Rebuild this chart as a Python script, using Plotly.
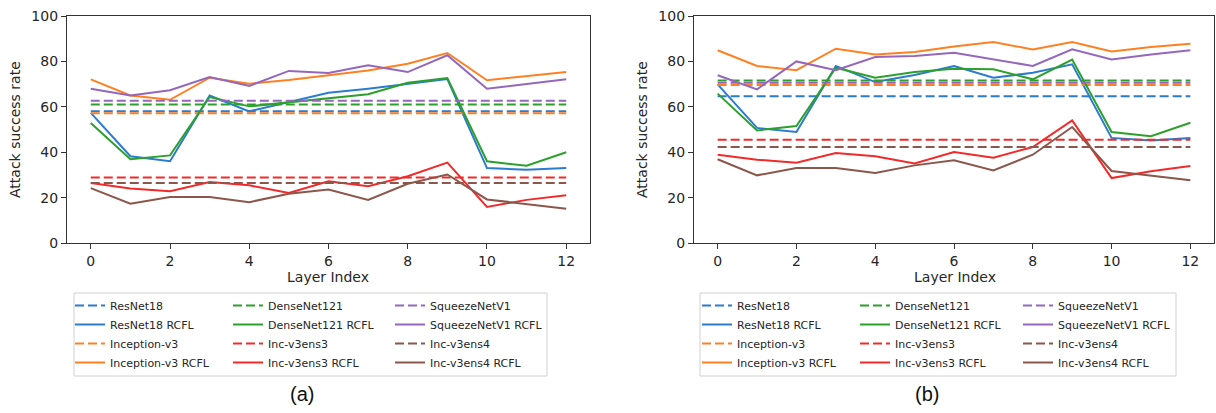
import plotly.graph_objects as go

layers = list(range(13))

# Panel (a): baselines (dashed) and RCFL curves (solid)
a_base = {
    "ResNet18": 58.0, "DenseNet121": 61.0, "SqueezeNetV1": 62.7,
    "Inception-v3": 57.2, "Inc-v3ens3": 28.8, "Inc-v3ens4": 26.4,
}
a_resnet18 = [57.3, 38.2, 36.0, 65.0, 58.0, 62.0, 66.2, 68.0, 70.2, 72.2, 33.0, 32.3, 33.0]
a_densenet121 = [52.9, 36.9, 38.6, 64.3, 60.2, 62.0, 64.0, 65.5, 70.6, 72.7, 36.0, 34.0, 40.0]
a_squeezenet = [68.0, 65.0, 67.3, 73.1, 69.2, 75.8, 74.9, 78.3, 75.3, 82.7, 68.0, 70.0, 72.1]
a_inception = [72.1, 65.0, 63.1, 72.8, 70.2, 71.8, 73.9, 76.0, 79.0, 83.7, 71.7, 73.4, 75.3]
a_ens3 = [26.4, 24.0, 22.8, 26.9, 25.4, 22.0, 27.2, 25.0, 29.4, 35.4, 15.9, 19.0, 21.0]
a_ens4 = [24.2, 17.3, 20.3, 20.3, 18.0, 21.7, 23.6, 19.0, 26.1, 30.2, 19.2, 17.3, 15.1]

# Panel (b)
b_base = {
    "ResNet18": 64.6, "DenseNet121": 71.6, "SqueezeNetV1": 70.6,
    "Inception-v3": 69.6, "Inc-v3ens3": 45.5, "Inc-v3ens4": 42.3,
}
b_resnet18 = [69.9, 50.7, 48.9, 78.0, 70.9, 74.0, 78.0, 72.8, 75.0, 78.7, 46.3, 45.2, 46.3]
b_densenet121 = [65.8, 49.6, 51.5, 77.2, 72.8, 75.3, 76.8, 76.5, 72.1, 80.8, 48.9, 47.0, 53.0]
b_squeezenet = [73.9, 67.7, 80.0, 76.1, 81.9, 82.4, 83.8, 80.8, 78.0, 85.3, 80.8, 83.0, 84.9]
b_inception = [84.9, 78.0, 76.1, 85.6, 83.0, 84.1, 86.6, 88.5, 85.3, 88.5, 84.4, 86.3, 87.8]
b_ens3 = [38.9, 36.7, 35.4, 39.6, 38.2, 35.0, 40.1, 37.6, 42.3, 54.0, 28.6, 31.6, 33.9]
b_ens4 = [36.9, 29.8, 33.0, 33.0, 30.8, 34.2, 36.4, 32.0, 38.9, 51.1, 31.7, 29.8, 27.6]

models = ["ResNet18", "DenseNet121", "SqueezeNetV1", "Inception-v3", "Inc-v3ens3", "Inc-v3ens4"]
colors = {
    "ResNet18": "#2b7bd0", "DenseNet121": "#2ca02c", "SqueezeNetV1": "#9467bd",
    "Inception-v3": "#ff8022", "Inc-v3ens3": "#f22a2a", "Inc-v3ens4": "#8c564b",
}
# legend columns (matplotlib ncol=3, column-major fill)
columns = [["ResNet18", "Inception-v3"], ["DenseNet121", "Inc-v3ens3"], ["SqueezeNetV1", "Inc-v3ens4"]]

W, H = 1216, 413
FONT = "DejaVu Sans"
TXT = "#262626"


def px_x(x):
    return x / W


def px_y(y):
    return 1 - y / H


fig = go.Figure()

panels = [
    ("x", "y", ["legend", "legend2", "legend3"], a_base,
     [a_resnet18, a_densenet121, a_squeezenet, a_inception, a_ens3, a_ens4]),
    ("x2", "y2", ["legend4", "legend5", "legend6"], b_base,
     [b_resnet18, b_densenet121, b_squeezenet, b_inception, b_ens3, b_ens4]),
]

for xa, ya, legs, base, curves in panels:
    curve_map = dict(zip(models, curves))
    for leg, col in zip(legs, columns):
        rank = 1
        for m in col:
            fig.add_trace(go.Scatter(
                x=layers, y=[base[m]] * len(layers), mode="lines",
                name=m, xaxis=xa, yaxis=ya, legend=leg, legendrank=rank,
                line=dict(color=colors[m], width=2, dash="9px,4px"),
            ))
            rank += 1
            fig.add_trace(go.Scatter(
                x=layers, y=curve_map[m], mode="lines",
                name=m + " RCFL", xaxis=xa, yaxis=ya, legend=leg, legendrank=rank,
                line=dict(color=colors[m], width=2),
            ))
            rank += 1

axis_common = dict(
    showgrid=False, zeroline=False, showline=True, mirror=True, automargin=False,
    linecolor="#333333", linewidth=1.3, ticks="outside", ticklen=5,
    tickcolor="#333333", tickwidth=1.2,
    tickfont=dict(family=FONT, size=14, color=TXT),
)
xaxis_common = dict(axis_common, range=[-0.6, 12.6], tickvals=[0, 2, 4, 6, 8, 10, 12])
yaxis_common = dict(axis_common, range=[0, 100], tickvals=[0, 20, 40, 60, 80, 100])

legend_common = dict(
    orientation="v", xanchor="left", yanchor="top",
    bgcolor="rgba(0,0,0,0)", borderwidth=0,
    font=dict(family=FONT, size=11, color=TXT),
    itemwidth=30, tracegroupgap=0, traceorder="normal",
)
legend_top = 291
legend_xs = {"legend": 70, "legend2": 228, "legend3": 390,
             "legend4": 697, "legend5": 855, "legend6": 1018}
legends = {k: dict(legend_common, x=px_x(v), y=px_y(legend_top)) for k, v in legend_xs.items()}

title_font = dict(family=FONT, size=14, color=TXT)
annotations = [
    dict(text="Attack success rate", x=px_x(15), y=px_y(130), textangle=-90, font=title_font),
    dict(text="Attack success rate", x=px_x(642), y=px_y(130), textangle=-90, font=title_font),
    dict(text="Layer Index", x=px_x(328), y=px_y(277), font=title_font),
    dict(text="Layer Index", x=px_x(955), y=px_y(277), font=title_font),
    dict(text="(a)", x=px_x(302), y=px_y(394),
         font=dict(family="Liberation Sans", size=20, color="#111111")),
    dict(text="(b)", x=px_x(927), y=px_y(394),
         font=dict(family="Liberation Sans", size=20, color="#111111")),
]
for a in annotations:
    a.update(xref="paper", yref="paper", showarrow=False, xanchor="center", yanchor="middle")

shapes = [
    dict(type="rect", xref="paper", yref="paper",
         x0=px_x(74), x1=px_x(547), y0=px_y(376), y1=px_y(293),
         line=dict(color="#d0d0d0", width=1), fillcolor="rgba(0,0,0,0)", layer="below"),
    dict(type="rect", xref="paper", yref="paper",
         x0=px_x(700), x1=px_x(1176), y0=px_y(376), y1=px_y(293),
         line=dict(color="#d0d0d0", width=1), fillcolor="rgba(0,0,0,0)", layer="below"),
]

fig.update_layout(
    width=W, height=H,
    margin=dict(l=0, r=0, t=0, b=0, autoexpand=False),
    paper_bgcolor="white", plot_bgcolor="white",
    showlegend=True,
    xaxis=dict(xaxis_common, domain=[px_x(67), px_x(590)], anchor="y"),
    yaxis=dict(yaxis_common, domain=[px_y(243), px_y(16)], anchor="x"),
    xaxis2=dict(xaxis_common, domain=[px_x(694), px_x(1214)], anchor="y2"),
    yaxis2=dict(yaxis_common, domain=[px_y(243), px_y(16)], anchor="x2"),
    annotations=annotations,
    shapes=shapes,
    **legends,
)

fig.write_html(
    "out.html",
    config={"displayModeBar": False},
    post_script="document.body.style.margin='0';document.body.style.overflow='hidden';",
)
